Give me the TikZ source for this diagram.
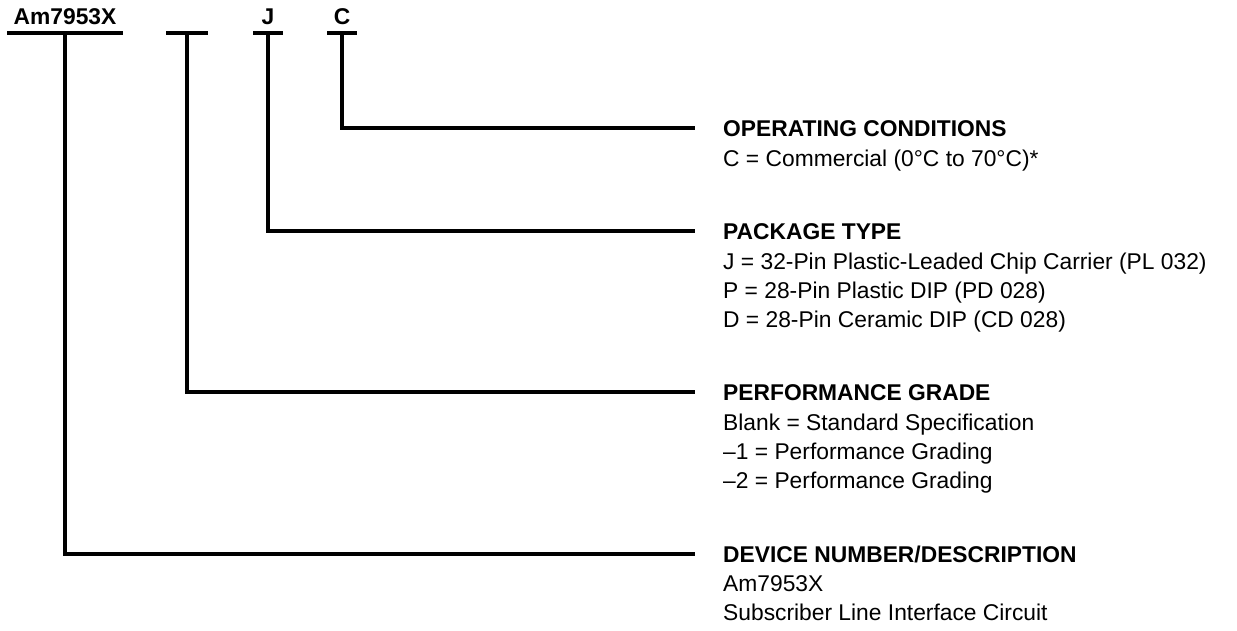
\documentclass[tikz,border=0pt]{standalone}
\usepackage{fontspec}
\setmainfont{Liberation Sans}
\usetikzlibrary{positioning}

\begin{document}
\begin{tikzpicture}[x=1pt,y=-1pt,
  lbl/.style={font=\fontsize{22.8}{29}\selectfont,inner sep=0pt},
  head/.style={lbl,font=\fontsize{22.8}{29}\selectfont\bfseries,
               text height=16.3pt,text depth=0pt},
  body/.style={lbl,align=left},
  wire/.style={line width=3.1pt}]
\useasboundingbox (0,0) rectangle (1237,631);
% order code fields along the top
\node[head,anchor=base] (dev) at (65,25) {Am7953X};
\node[head,anchor=base] (pkg) at (268,25) {J};
\node[head,anchor=base] (cond) at (342,25) {C};
\coordinate (devTab) at (65,33);
\coordinate (gradeTab) at (187,33);
\coordinate (pkgTab) at (268,33);
\coordinate (condTab) at (342,33);
\draw[wire] ([xshift=-58pt]devTab) -- ([xshift=58pt]devTab);
\draw[wire] ([xshift=-21pt]gradeTab) -- ([xshift=21pt]gradeTab);
\draw[wire] ([xshift=-15pt]pkgTab) -- ([xshift=15pt]pkgTab);
\draw[wire] ([xshift=-15pt]condTab) -- ([xshift=15pt]condTab);
% ends of the leader lines
\coordinate (condEnd) at (695,128);
\coordinate (pkgEnd) at (695,231);
\coordinate (gradeEnd) at (695,392);
\coordinate (devEnd) at (695,554);
\draw[wire] (condTab) |- (condEnd);
\draw[wire] (pkgTab) |- (pkgEnd);
\draw[wire] (gradeTab) |- (gradeEnd);
\draw[wire] (devTab) |- (devEnd);
% descriptions
\node[head,right=28pt of condEnd] (condHead) {OPERATING CONDITIONS};
\node[body,below=13pt of condHead.south west,anchor=north west] (condBody)
  {C = Commercial (0°C to 70°C)*};
\node[head,right=28pt of pkgEnd] (pkgHead) {PACKAGE TYPE};
\node[body,below=13pt of pkgHead.south west,anchor=north west] (pkgBody)
  {J = 32-Pin Plastic-Leaded Chip Carrier (PL 032)\\
   P = 28-Pin Plastic DIP (PD 028)\\
   D = 28-Pin Ceramic DIP (CD 028)};
\node[head,right=28pt of gradeEnd] (gradeHead) {PERFORMANCE GRADE};
\node[body,below=13pt of gradeHead.south west,anchor=north west] (gradeBody)
  {Blank = Standard Specification\\
   –1 = Performance Grading\\
   –2 = Performance Grading};
\node[head,right=28pt of devEnd] (devHead) {DEVICE NUMBER/DESCRIPTION};
\node[body,below=13pt of devHead.south west,anchor=north west] (devBody)
  {Am7953X\\
   Subscriber Line Interface Circuit};
\end{tikzpicture}
\end{document}
